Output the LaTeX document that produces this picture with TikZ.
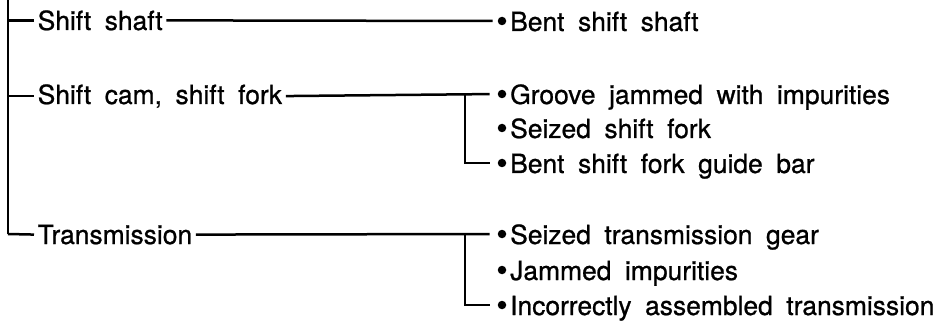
\documentclass[tikz,border=0pt]{standalone}
\usepackage{fontspec}
\setmainfont[WordSpace=1.85,FakeBold=0.8]{TeX Gyre Heros}
\begin{document}
\begin{tikzpicture}[x=1pt,y=-1pt,
  conn/.style={line width=2.5pt},
  trunk/.style={line width=2.8pt},
  cat/.style={inner xsep=3.5pt,inner ysep=0pt,anchor=base west,font=\fontsize{26.4}{30}\selectfont},
  item/.style={inner sep=0pt,anchor=base west,font=\fontsize{26.4}{30}\selectfont},
  dot/.style={circle,fill=black,inner sep=0pt,minimum size=8.5pt}]
\useasboundingbox (0,0) rectangle (944,323);
% categories
\node[cat] (A) at (34,30) {Shift shaft};
\node[cat] (B) at (34,104) {Shift cam, shift fork};
\node[cat] (C) at (34,244) {Transmission};
% trunk
\coordinate (top) at (8,-2);
\coordinate (bot) at (8,234);
\coordinate (brB) at (465,94);
\coordinate (brC) at (465,234);
% bullets
\node[dot] (a1) at (502,21) {};
\node[dot] (b1) at (502,94) {};
\node[dot] (b2) at (502,128) {};
\node[dot] (b3) at (502,163) {};
\node[dot] (c1) at (502,234) {};
\node[dot] (c2) at (502,270) {};
\node[dot] (c3) at (502,305) {};
% item texts
\node[item] (ta1) at (510,31) {Bent shift shaft};
\node[item] (tb1) at (510,104) {Groove jammed with impurities};
\node[item] (tb2) at (510,138) {Seized shift fork};
\node[item] (tb3) at (510,173) {Bent shift fork guide bar};
\node[item] (tc1) at (510,244) {Seized transmission gear};
\node[item] (tc2) at (510,280) {Jammed impurities};
\node[item] (tc3) at (510,315) {Incorrectly assembled transmission};
% connectors
\draw[trunk] (top) -- (bot);
\draw[conn] (top |- A.west) -- (A.west);
\draw[conn] (top |- B.west) -- (B.west);
\draw[conn] (bot) -- (C.west);
\draw[conn,shorten >=5pt] (A.east) -- (a1.west);
\draw[conn,shorten >=8pt] (B.east) -- (b1.west);
\draw[conn,shorten >=8pt] (brB) |- (b3.west);
\draw[conn,shorten >=8pt] (C.east) -- (c1.west);
\draw[conn,shorten >=8pt] (brC) |- (c3.west);
\end{tikzpicture}
\end{document}
